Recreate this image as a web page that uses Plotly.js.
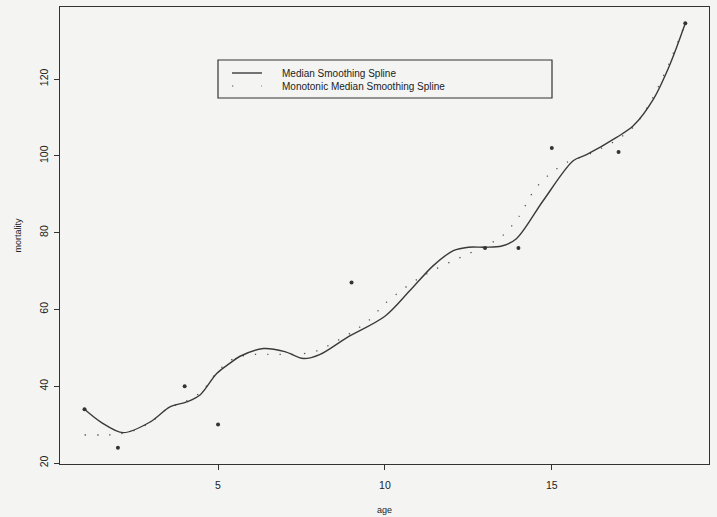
<!DOCTYPE html>
<html>
<head>
<meta charset="utf-8">
<script src="https://cdn.plot.ly/plotly-3.0.1.min.js"></script>
<style>
html,body{margin:0;padding:0;background:#f4f5f3;}
#chart{width:717px;height:517px;}
</style>
</head>
<body>
<div id="chart"></div>
<script>
// Observed data points (age, mortality)
const obsAge = [1, 2, 4, 5, 9, 13, 14, 15, 17, 19];
const obsMortality = [34, 24, 40, 30, 67, 76, 76, 102, 101, 134.5];

// Median smoothing spline
const medAge = [1, 1.5, 2.16, 2.97, 3.56, 4.06, 4.46, 4.96, 5.36, 5.66, 6.36, 7.0, 7.56, 8.06, 8.85, 10.0, 10.75, 11.45, 12.05, 12.5, 13.0, 13.5, 13.94, 14.74, 15.64, 16.04, 16.94, 17.44, 18.04, 18.54, 19];
const medMortality = [34, 30.6, 27.9, 30.7, 34.6, 35.9, 37.7, 43.3, 46, 47.8, 49.8, 49, 47.2, 48.3, 52.6, 58.2, 64.9, 71.4, 75.3, 76.2, 76.2, 76.5, 78.4, 88.3, 98.7, 100.3, 104.8, 107.8, 114.7, 123.8, 134.5];

// Monotonic median smoothing spline
const monoAge = [1, 1.5, 2, 2.5, 3, 3.5, 4, 4.5, 5, 5.5, 6, 6.5, 7, 7.5, 8, 8.5, 9, 9.5, 10, 10.5, 11, 11.5, 12, 12.5, 13, 13.5, 14, 14.5, 15, 15.5, 16, 16.5, 17, 17.5, 18, 18.5, 19];
const monoMortality = [27.3, 27.3, 27.5, 28.5, 30.7, 34.3, 35.9, 38.5, 44, 47.3, 48.2, 48.3, 48.3, 48.4, 49.3, 51.5, 54, 57, 61.5, 65, 68, 70.4, 72.5, 74.5, 76.5, 79, 84, 91.4, 95.7, 98.5, 100, 102, 104.4, 108, 114.7, 123.8, 134.5];

const legendLabels = ["Median Smoothing Spline", "Monotonic Median Smoothing Spline"];
const xTicks = [5, 10, 15];
const yTicks = [20, 40, 60, 80, 100, 120];

const font = "Liberation Sans, Arial, Helvetica, sans-serif";

const traces = [
  {x: monoAge, y: monoMortality, mode: "lines", type: "scatter",
   line: {color: "#555", width: 1.3, dash: "1.3px,11px", shape: "spline", smoothing: 0.8},
   name: legendLabels[1], hoverinfo: "skip"},
  {x: medAge, y: medMortality, mode: "lines", type: "scatter",
   line: {color: "#3a3a3a", width: 1.4, shape: "spline", smoothing: 0.9},
   name: legendLabels[0]},
  {x: obsAge, y: obsMortality, mode: "markers", type: "scatter",
   marker: {color: "#333", size: 4}, name: "data"}
];

const layout = {
  width: 717, height: 517,
  margin: {l: 60, r: 8, t: 7, b: 53},
  paper_bgcolor: "#f4f5f3",
  plot_bgcolor: "#f4f5f3",
  showlegend: false,
  font: {family: font, size: 10, color: "#222"},
  xaxis: {
    range: [0.265, 19.71], tickvals: xTicks, ticktext: xTicks.map(String),
    ticks: "outside", ticklen: 5, tickcolor: "#333", tickwidth: 1, ticklabelstandoff: 6,
    showgrid: false, zeroline: false, showline: true, mirror: true,
    linecolor: "#333", linewidth: 1.2,
    tickfont: {family: font, size: 10.5, color: "#222"},
    title: {text: "age", font: {family: font, size: 9, color: "#222"}, standoff: 17}
  },
  yaxis: {
    range: [19.74, 138.75], tickvals: yTicks, ticktext: yTicks.map(String),
    ticks: "outside", ticklen: 5, tickcolor: "#333", tickwidth: 1, tickangle: -90, ticklabelstandoff: 2,
    showgrid: false, zeroline: false, showline: true, mirror: true,
    linecolor: "#333", linewidth: 1.2,
    tickfont: {family: font, size: 10.5, color: "#222"},
    title: {text: "mortality", font: {family: font, size: 9, color: "#222"}, standoff: 14}
  },
  shapes: [
    {type: "rect", xref: "paper", yref: "paper",
     x0: (218-60)/649, x1: (552-60)/649, y0: (464-98)/457, y1: (464-60)/457,
     line: {color: "#333", width: 1.2}, fillcolor: "rgba(0,0,0,0)"},
    {type: "line", xref: "paper", yref: "paper",
     x0: (232-60)/649, x1: (262-60)/649, y0: (464-73)/457, y1: (464-73)/457,
     line: {color: "#3a3a3a", width: 1.4}},
    {type: "line", xref: "paper", yref: "paper",
     x0: (232-60)/649, x1: (262-60)/649, y0: (464-86)/457, y1: (464-86)/457,
     line: {color: "#555", width: 1.2, dash: "1.3px,28px"}}
  ],
  annotations: [
    {xref: "paper", yref: "paper", x: (280-60)/649, y: (464-73)/457, xanchor: "left", yanchor: "middle",
     text: legendLabels[0], showarrow: false, font: {family: font, size: 10, color: "#222"}},
    {xref: "paper", yref: "paper", x: (280-60)/649, y: (464-86)/457, xanchor: "left", yanchor: "middle",
     text: legendLabels[1], showarrow: false, font: {family: font, size: 10, color: "#222"}}
  ]
};

Plotly.newPlot("chart", traces, layout, {displayModeBar: false, staticPlot: true});
</script>
</body>
</html>
